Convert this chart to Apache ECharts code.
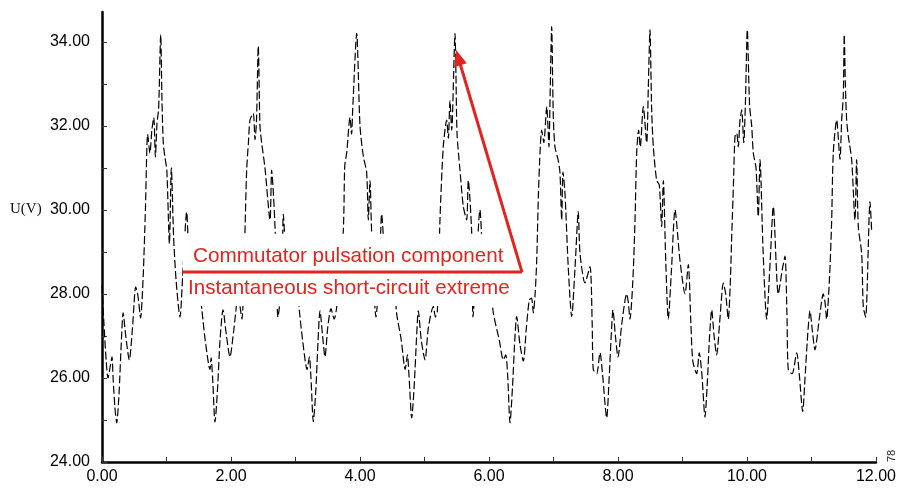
<!DOCTYPE html>
<html>
<head>
<meta charset="utf-8">
<script src="https://cdn.jsdelivr.net/npm/echarts@6/dist/echarts.min.js"></script>
<style>
  html, body { margin: 0; padding: 0; background: #ffffff; }
  #chart { width: 899px; height: 488px; }
</style>
</head>
<body>
<div id="chart"></div>
<script>
// ---- Data (time axis 0..12, voltage U in V) ----
const pulse0 = [[0.000, 28.2], [0.030, 27.3], [0.065, 26.4], [0.093, 26.0], [0.130, 26.3], [0.155, 26.5], [0.172, 26.0], [0.200, 25.3]];
const pulse1 = [[0.228, 24.93], [0.263, 25.6], [0.298, 26.8], [0.328, 27.55], [0.368, 27.0], [0.423, 26.43], [0.473, 27.2], [0.523, 28.17], [0.558, 27.95], [0.598, 27.43], [0.638, 28.4], [0.673, 30.0], [0.708, 31.8], [0.743, 31.35], [0.773, 31.9], [0.803, 32.2], [0.828, 31.26], [0.853, 32.07], [0.878, 32.4], [0.910, 34.17], [0.930, 32.6], [0.950, 31.6], [0.975, 31.26], [1.005, 30.95], [1.045, 29.2], [1.075, 31.0], [1.110, 29.36], [1.150, 28.3], [1.209, 27.45], [1.250, 28.4], [1.313, 29.95], [1.345, 29.0], [1.400, 28.3], [1.460, 28.7], [1.550, 27.6], [1.600, 26.9], [1.674, 26.2], [1.692, 26.48], [1.715, 26.0]];
const pulse2 = [[1.752, 24.95], [1.790, 25.7], [1.830, 26.9], [1.876, 27.62], [1.930, 27.0], [1.984, 26.5], [2.040, 27.1], [2.109, 27.9], [2.140, 27.7], [2.170, 27.4], [2.200, 28.4], [2.217, 29.5], [2.243, 30.95], [2.270, 31.6], [2.295, 32.14], [2.346, 32.3], [2.372, 31.67], [2.395, 32.1], [2.423, 33.9], [2.449, 32.0], [2.475, 31.6], [2.527, 31.0], [2.605, 29.76], [2.630, 30.95], [2.657, 30.4], [2.682, 29.6], [2.729, 27.45], [2.790, 28.4], [2.811, 29.9], [2.850, 29.0], [2.920, 28.3], [2.990, 28.7], [3.060, 27.6], [3.110, 26.9], [3.180, 26.2], [3.215, 26.5], [3.240, 26.0]];
const pulse3 = [[3.276, 24.96], [3.315, 25.7], [3.350, 26.9], [3.380, 27.6], [3.420, 27.0], [3.457, 26.5], [3.500, 27.2], [3.550, 27.65], [3.600, 27.4], [3.640, 27.7], [3.680, 28.5], [3.741, 29.5], [3.760, 30.9], [3.767, 31.1], [3.794, 31.36], [3.845, 32.2], [3.870, 31.8], [3.887, 32.4], [3.949, 34.2], [4.000, 32.0], [4.052, 31.27], [4.103, 30.9], [4.129, 29.76], [4.155, 30.7], [4.181, 29.45], [4.248, 27.45], [4.300, 28.5], [4.336, 29.9], [4.380, 29.0], [4.440, 28.3], [4.510, 28.7], [4.567, 27.55], [4.640, 26.9], [4.700, 26.2], [4.735, 26.55], [4.760, 26.05]];
const pulse4 = [[4.802, 25.05], [4.840, 25.8], [4.875, 26.9], [4.904, 27.6], [4.950, 26.9], [5.008, 26.43], [5.060, 27.2], [5.136, 27.7], [5.170, 27.45], [5.200, 27.6], [5.240, 29.76], [5.291, 31.5], [5.344, 32.14], [5.370, 31.7], [5.395, 32.6], [5.422, 31.9], [5.473, 34.2], [5.488, 33.2], [5.505, 31.8], [5.550, 30.95], [5.602, 30.08], [5.654, 29.76], [5.679, 30.7], [5.732, 29.45], [5.752, 27.45], [5.800, 28.6], [5.860, 30.0], [5.900, 29.0], [5.960, 28.3], [6.030, 28.7], [6.062, 27.6], [6.160, 26.9], [6.222, 26.43], [6.260, 26.55], [6.290, 26.05]];
const pulse5 = [[6.326, 24.93], [6.365, 25.8], [6.400, 26.9], [6.429, 27.46], [6.480, 26.8], [6.532, 26.4], [6.580, 27.2], [6.625, 27.86], [6.660, 27.9], [6.687, 27.55], [6.715, 28.0], [6.740, 28.8], [6.765, 30.3], [6.791, 31.36], [6.817, 31.9], [6.850, 31.6], [6.895, 32.46], [6.930, 31.5], [6.946, 32.6], [6.972, 34.36], [6.997, 32.22], [7.023, 31.5], [7.070, 31.2], [7.100, 30.9], [7.127, 29.76], [7.147, 30.9], [7.178, 30.4], [7.230, 28.6], [7.282, 27.46], [7.340, 28.8], [7.384, 29.96], [7.411, 28.97], [7.488, 28.26], [7.566, 28.65], [7.600, 27.3], [7.617, 26.2], [7.670, 26.1], [7.721, 26.6], [7.760, 26.1]];
const pulse6 = [[7.825, 25.05], [7.860, 25.9], [7.895, 27.0], [7.922, 27.62], [7.960, 27.0], [8.000, 26.5], [8.060, 27.3], [8.135, 28.0], [8.160, 27.8], [8.186, 27.4], [8.230, 28.3], [8.264, 29.76], [8.290, 31.36], [8.320, 31.9], [8.345, 31.5], [8.393, 32.46], [8.445, 31.6], [8.470, 32.9], [8.496, 34.29], [8.522, 32.4], [8.548, 31.5], [8.600, 30.7], [8.640, 30.6], [8.677, 29.6], [8.703, 30.7], [8.740, 28.8], [8.780, 27.4], [8.830, 28.6], [8.884, 30.0], [8.961, 28.8], [9.039, 28.0], [9.090, 28.7], [9.130, 27.3], [9.160, 26.4], [9.220, 26.1], [9.260, 26.6], [9.300, 26.1]];
const pulse7 = [[9.349, 25.07], [9.385, 25.9], [9.420, 27.0], [9.453, 27.62], [9.490, 27.0], [9.530, 26.55], [9.580, 27.4], [9.633, 28.26], [9.670, 28.0], [9.710, 27.4], [9.740, 28.2], [9.763, 29.36], [9.790, 30.6], [9.814, 31.75], [9.840, 31.83], [9.865, 31.5], [9.890, 32.1], [9.918, 32.38], [9.950, 31.6], [9.975, 32.5], [10.005, 34.29], [10.040, 32.5], [10.073, 32.0], [10.098, 31.36], [10.140, 31.0], [10.175, 29.84], [10.202, 31.2], [10.250, 29.0], [10.305, 27.4], [10.360, 28.8], [10.408, 30.08], [10.485, 28.0], [10.550, 28.6], [10.589, 28.9], [10.620, 27.5], [10.640, 26.2], [10.700, 26.1], [10.771, 26.6], [10.810, 26.1]];
const pulse8 = [[10.864, 25.2], [10.900, 26.0], [10.940, 27.0], [10.977, 27.6], [11.015, 27.1], [11.054, 26.67], [11.120, 27.4], [11.183, 28.0], [11.210, 27.8], [11.235, 27.4], [11.280, 28.4], [11.313, 29.76], [11.338, 31.36], [11.390, 32.14], [11.442, 31.2], [11.468, 32.14], [11.493, 32.7], [11.508, 34.17], [11.525, 33.0], [11.545, 32.14], [11.571, 31.75], [11.623, 31.2], [11.674, 29.76], [11.700, 31.2], [11.726, 29.6], [11.778, 28.97], [11.803, 27.7], [11.840, 27.45], [11.907, 30.2], [11.933, 29.5]];

const xRange = [0, 12];
const yRange = [24, 34.71];
const yAxisName = 'U(V)';
const noteTop = 'Commutator pulsation component';
const noteBottom = 'Instantaneous short-circuit extreme';
const pageMark = '78';
// annotation anchors (data coordinates)
const noteBox = [[1.256, 27.71], [6.56, 29.43]];
const underline = [[1.256, 28.52], [6.512, 28.52]];
const arrowTail = [6.512, 28.52];
const arrowTip = [5.488, 33.81];

const waveform = [].concat(pulse0, pulse1, pulse2, pulse3, pulse4, pulse5, pulse6, pulse7, pulse8);

const RED = '#e2231f';
const chart = echarts.init(document.getElementById('chart'), null, { renderer: 'canvas', width: 899, height: 488 });

const labelFmt = function (v) {
  return (Math.abs(v % 2) < 1e-9) ? v.toFixed(2) : '';
};

const axisFont = { color: '#000', fontSize: 16, fontFamily: 'Liberation Sans, Arial, sans-serif' };

chart.setOption({
  animation: false,
  backgroundColor: '#ffffff',
  grid: { left: 102, right: 23, top: 12, bottom: 26, containLabel: false },
  xAxis: {
    type: 'value',
    min: xRange[0], max: xRange[1], interval: 1,
    axisLine: { show: true, onZero: false, lineStyle: { color: '#000', width: 2.5 } },
    axisTick: { show: true, inside: true, length: 5, lineStyle: { color: '#333', width: 1 } },
    axisLabel: Object.assign({ formatter: labelFmt, margin: 7 }, axisFont),
    splitLine: { show: false }
  },
  yAxis: {
    type: 'value',
    min: yRange[0], max: yRange[1], interval: 1,
    axisLine: { show: true, onZero: false, lineStyle: { color: '#000', width: 2.5 } },
    axisTick: { show: true, inside: true, length: 5, lineStyle: { color: '#333', width: 1 } },
    axisLabel: Object.assign({ formatter: labelFmt, margin: 12, showMaxLabel: false }, axisFont),
    splitLine: { show: false }
  },
  series: [
    {
      type: 'line',
      data: waveform,
      showSymbol: false,
      smooth: 0.25,
      z: 2,
      lineStyle: { color: '#000', width: 1.2, type: [8, 3] }
    }
  ]
});

// annotation placed from data coordinates
const px = function (d) { return chart.convertToPixel({ gridIndex: 0 }, d); };
const b0 = px(noteBox[0]);
const b1 = px(noteBox[1]);
const u0 = px(underline[0]);
const u1 = px(underline[1]);
const tail = px(arrowTail);
const tip = px(arrowTip);
const dx = tip[0] - tail[0], dy = tip[1] - tail[1];
const len = Math.sqrt(dx * dx + dy * dy);
const ux = dx / len, uy = dy / len;
const headLen = 16, headHalf = 6.5;
const base = [tip[0] - ux * headLen, tip[1] - uy * headLen];
const head = [
  tip,
  [base[0] - uy * headHalf, base[1] + ux * headHalf],
  [base[0] + uy * headHalf, base[1] - ux * headHalf]
];

chart.setOption({
  graphic: [
    {
      type: 'rect', z: 50, silent: true,
      shape: { x: Math.min(b0[0], b1[0]), y: Math.min(b0[1], b1[1]), width: Math.abs(b1[0] - b0[0]), height: Math.abs(b1[1] - b0[1]) },
      style: { fill: '#ffffff' }
    },
    {
      type: 'line', z: 60, silent: true,
      shape: { x1: u0[0], y1: u0[1], x2: u1[0], y2: u1[1] },
      style: { stroke: RED, lineWidth: 3 }
    },
    {
      type: 'line', z: 60, silent: true,
      shape: { x1: tail[0], y1: tail[1], x2: base[0] + ux * 2, y2: base[1] + uy * 2 },
      style: { stroke: RED, lineWidth: 3 }
    },
    {
      type: 'polygon', z: 60, silent: true,
      shape: { points: head },
      style: { fill: RED }
    },
    {
      type: 'text', left: 10, top: 202, z: 100,
      style: { text: yAxisName, fill: '#111', font: '15px "Liberation Serif", "Times New Roman", serif' }
    },
    {
      type: 'text', x: 193, y: 256, z: 100,
      style: { text: noteTop, fill: RED, font: '20.7px "Liberation Sans", Arial, sans-serif', verticalAlign: 'middle' }
    },
    {
      type: 'text', x: 188, y: 288, z: 100,
      style: { text: noteBottom, fill: RED, font: '20.6px "Liberation Sans", Arial, sans-serif', verticalAlign: 'middle' }
    },
    {
      type: 'text', x: 886, y: 462, z: 100, rotation: Math.PI / 2,
      style: { text: pageMark, fill: '#222', font: '11px "Liberation Sans", Arial, sans-serif', verticalAlign: 'top' }
    }
  ]
});
</script>
</body>
</html>
